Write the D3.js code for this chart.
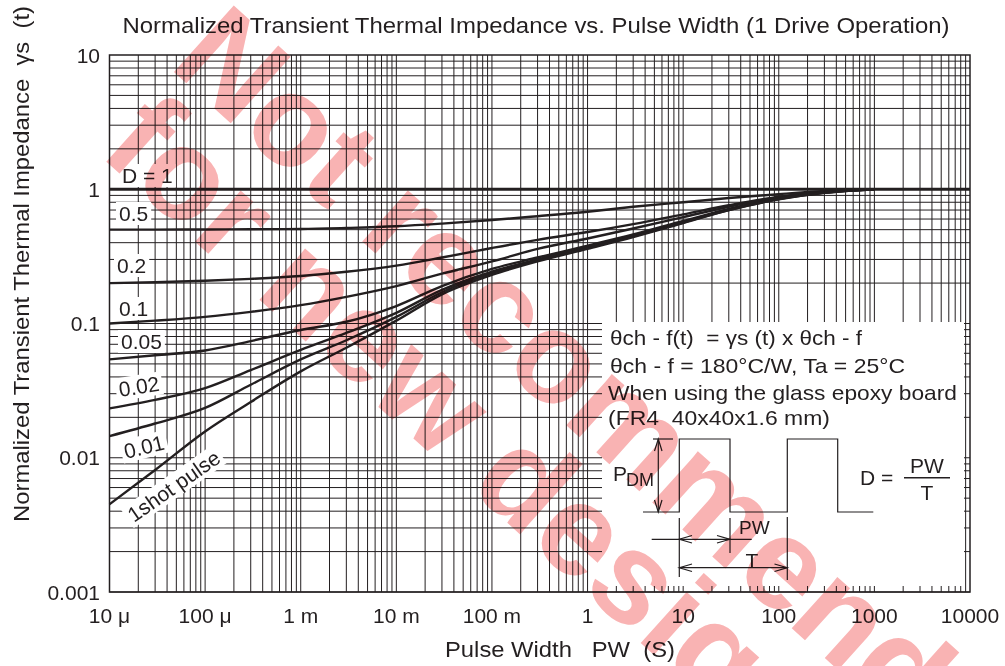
<!DOCTYPE html>
<html>
<head>
<meta charset="utf-8">
<script src="https://cdn.jsdelivr.net/npm/d3@7"></script>
<style>
  html, body { margin: 0; padding: 0; background: #fff; }
  svg { display: block; font-family: "Liberation Sans", Arial, Helvetica, sans-serif; }
  text { fill: #231f20; white-space: pre; }
</style>
</head>
<body>
<div id="chart"></div>
<script>
// pulse width (s) at which the curves were read
var pulseWidths = [1e-5, 3e-5, 1e-4, 3e-4, 1e-3, 3e-3, 1e-2, 3e-2, 0.1, 0.3, 1, 3, 10, 30, 100, 300, 1000];

// normalized transient thermal impedance for each duty
var dutyOne = [1, 1];
var dutyOneWidths = [1e-5, 1e4];
var duty05 = [0.5, 0.5, 0.502, 0.504, 0.506, 0.515, 0.53, 0.555, 0.59, 0.63, 0.68, 0.74, 0.80, 0.86, 0.92, 0.97, 1.0];
var duty02 = [0.2, 0.203, 0.208, 0.215, 0.226, 0.243, 0.27, 0.31, 0.365, 0.42, 0.48, 0.55, 0.65, 0.76, 0.88, 0.96, 1.0];
var duty01 = [0.1, 0.105, 0.112, 0.122, 0.137, 0.158, 0.19, 0.235, 0.29, 0.36, 0.43, 0.51, 0.62, 0.74, 0.87, 0.955, 1.0];
var duty005 = [0.054, 0.058, 0.063, 0.074, 0.0895, 0.103, 0.135, 0.19, 0.255, 0.31, 0.38, 0.46, 0.58, 0.715, 0.855, 0.95, 1.0];
var duty002 = [0.0233, 0.027, 0.033, 0.045, 0.0635, 0.085, 0.12, 0.178, 0.243, 0.30, 0.37, 0.45, 0.57, 0.705, 0.85, 0.945, 1.0];
var duty001 = [0.0145, 0.018, 0.0235, 0.035, 0.054, 0.075, 0.112, 0.171, 0.237, 0.295, 0.365, 0.445, 0.565, 0.70, 0.845, 0.94, 1.0];
var oneShot = [0.0045, 0.0081, 0.0157, 0.026, 0.044, 0.066, 0.105, 0.165, 0.23, 0.29, 0.36, 0.44, 0.56, 0.70, 0.84, 0.94, 1.0];

var xTickValues = [1e-5, 1e-4, 1e-3, 1e-2, 1e-1, 1, 10, 100, 1000, 10000];
var xTickLabels = ['10 \u03bc', '100 \u03bc', '1 m', '10 m', '100 m', '1', '10', '100', '1000', '10000'];
var yTickValues = [10, 1, 0.1, 0.01, 0.001];
var yTickLabels = ['10', '1', '0.1', '0.01', '0.001'];

var width = 1005, height = 666;
var margin = { top: 55, right: 35, bottom: 74, left: 109.5 };

var svg = d3.select('#chart').append('svg').attr('width', width).attr('height', height);
svg.append('rect').attr('width', width).attr('height', height).attr('fill', '#fff');

var xScale = d3.scaleLog().domain([1e-5, 1e4]).range([margin.left, width - margin.right]);
var yScale = d3.scaleLog().domain([1e-3, 10]).range([height - margin.bottom, margin.top]);
var x0 = xScale.range()[0], x1 = xScale.range()[1];
var y0 = yScale.range()[0], y1 = yScale.range()[1];

// grid: every 1..9 multiple of each decade
var xGrid = [], yGrid = [];
d3.range(-5, 4).forEach(function (p) {
  d3.range(1, 10).forEach(function (k) { xGrid.push(k * Math.pow(10, p)); });
});
d3.range(-3, 1).forEach(function (p) {
  d3.range(1, 10).forEach(function (k) { yGrid.push(k * Math.pow(10, p)); });
});

var grid = svg.append('g').attr('stroke', '#231f20').attr('stroke-width', 1);
grid.selectAll('line.v').data(xGrid).enter().append('line')
  .attr('x1', function (d) { return xScale(d); }).attr('x2', function (d) { return xScale(d); })
  .attr('y1', y0).attr('y2', y1);
grid.selectAll('line.h').data(yGrid).enter().append('line')
  .attr('y1', function (d) { return yScale(d); }).attr('y2', function (d) { return yScale(d); })
  .attr('x1', x0).attr('x2', x1);

// white panel for the notes, grid shows only as stubs around it
svg.append('rect').attr('x', 602).attr('y', 322).attr('width', 362).attr('height', 264).attr('fill', '#fff');

// frame
svg.append('rect').attr('x', x0).attr('y', y1).attr('width', x1 - x0).attr('height', y0 - y1)
  .attr('fill', 'none').attr('stroke', '#231f20').attr('stroke-width', 1.5);

// curve labels with white boxes behind them
var labels = [
  { text: 'D = 1', x: 122, y: 183, rot: 0 },
  { text: '0.5', x: 119, y: 221, rot: 0 },
  { text: '0.2', x: 117, y: 273, rot: 0 },
  { text: '0.1', x: 119, y: 316, rot: 0 },
  { text: '0.05', x: 121, y: 349, rot: 0 },
  { text: '0.02', x: 120, y: 397, rot: -9 },
  { text: '0.01', x: 126, y: 459, rot: -14 },
  { text: '1shot pulse', x: 134, y: 523, rot: -35 }
];
var lab = svg.append('g').attr('font-size', 21);
labels.forEach(function (l) {
  var g = lab.append('g').attr('transform', 'translate(' + l.x + ',' + l.y + ') rotate(' + l.rot + ')');
  var bg = g.append('rect').attr('fill', '#fff');
  var t = g.append('text').text(l.text);
  var b = t.node().getBBox();
  bg.attr('x', b.x - 3).attr('y', b.y).attr('width', b.width + 6).attr('height', b.height);
});

// curves
var line = d3.line()
  .x(function (d) { return xScale(d[0]); })
  .y(function (d) { return yScale(d[1]); })
  .curve(d3.curveMonotoneX);

var series = [duty05, duty02, duty01, duty005, duty002, duty001, oneShot];
var curves = svg.append('g').attr('fill', 'none').attr('stroke', '#231f20').attr('stroke-width', 2.4);
series.forEach(function (s) {
  curves.append('path').attr('d', line(d3.zip(pulseWidths, s)));
});
curves.append('path').attr('d', line(d3.zip(dutyOneWidths, dutyOne))).attr('stroke-width', 3);

// tick labels
var tl = svg.append('g').attr('font-size', 21);
tl.selectAll('text.x').data(xTickValues).enter().append('text')
  .attr('x', function (d) { return xScale(d); }).attr('y', 623)
  .attr('text-anchor', 'middle')
  .text(function (d, i) { return xTickLabels[i]; });
tl.selectAll('text.y').data(yTickValues).enter().append('text')
  .attr('x', 100).attr('y', function (d) { return yScale(d); }).attr('dy', '0.36em')
  .attr('text-anchor', 'end')
  .text(function (d, i) { return yTickLabels[i]; });

// titles
function fitText(sel, len) {
  return sel.attr('textLength', len).attr('lengthAdjust', 'spacingAndGlyphs');
}
fitText(svg.append('text').attr('x', 122.5).attr('y', 33).attr('font-size', 22)
  .text('Normalized Transient Thermal Impedance vs. Pulse Width (1 Drive Operation)'), 827);
fitText(svg.append('text').attr('x', 445).attr('y', 657).attr('font-size', 22)
  .text('Pulse Width   PW  (S)'), 230);
fitText(svg.append('text').attr('transform', 'translate(29,522) rotate(-90)').attr('font-size', 22)
  .text('Normalized Transient Thermal Impedance  \u03b3s  (t)'), 516);

// notes
var notes = svg.append('g').attr('font-size', 21);
fitText(notes.append('text').attr('x', 610).attr('y', 345).text('\u03b8ch - f(t)  = \u03b3s (t) x \u03b8ch - f'), 252);
fitText(notes.append('text').attr('x', 610).attr('y', 373).text('\u03b8ch - f = 180\u00b0C/W, Ta = 25\u00b0C'), 295);
fitText(notes.append('text').attr('x', 608).attr('y', 400).text('When using the glass epoxy board'), 349);
fitText(notes.append('text').attr('x', 608).attr('y', 425).text('(FR4  40x40x1.6 mm)'), 222);

// pulse train sketch
var d = svg.append('g').attr('fill', 'none').attr('stroke', '#231f20').attr('stroke-width', 1.2);
var lo = 512, hi = 439;
d.append('path').attr('d', 'M643,' + lo + 'H679.3V' + hi + 'H730V' + lo + 'H787.3V' + hi + 'H837.7V' + lo + 'H873.3');
d.append('path').attr('d', 'M653,' + hi + 'H673');
d.append('path').attr('d', 'M658.3,' + hi + 'V' + lo);
d.append('path').attr('d', 'M654.5,451 L658.3,' + hi + ' L662,451 M654.5,500 L658.3,' + lo + ' L662,500');
d.append('path').attr('d', 'M679.3,518V577 M730,518V553 M787.3,517V580');
d.append('path').attr('d', 'M651.7,539.3H751.7');
d.append('path').attr('d', 'M692,535.5 L679.3,539.3 L692,543 M717,535.5 L730,539.3 L717,543');
d.append('path').attr('d', 'M679.3,567.7H787.3');
d.append('path').attr('d', 'M692,564 L679.3,567.7 L692,571.5 M774.5,564 L787.3,567.7 L774.5,571.5');
d.append('path').attr('d', 'M904,477.7H950').attr('stroke-width', 1.4);

var dl = svg.append('g').attr('font-size', 21);
dl.append('text').attr('x', 613).attr('y', 481).text('P');
dl.append('text').attr('x', 626).attr('y', 486).attr('font-size', 18).text('DM');
dl.append('text').attr('x', 739).attr('y', 534).attr('font-size', 19).text('PW');
dl.append('text').attr('x', 752).attr('y', 568).attr('text-anchor', 'middle').text('T');
dl.append('text').attr('x', 860).attr('y', 485).text('D =');
dl.append('text').attr('x', 927).attr('y', 473).attr('text-anchor', 'middle').text('PW');
dl.append('text').attr('x', 927).attr('y', 500).attr('text-anchor', 'middle').text('T');

// watermark
var wm = svg.append('g').attr('transform', 'translate(112,167) rotate(42)')
  .style('mix-blend-mode', 'multiply')
  .attr('font-size', 130).attr('font-weight', 'bold');
wm.append('text').attr('x', -26).attr('y', -112).style('fill', '#f9b3b3').text('Not recommended');
wm.append('text').attr('x', -20).attr('y', 0).style('fill', '#f9b3b3').text('for new design');
</script>
</body>
</html>
